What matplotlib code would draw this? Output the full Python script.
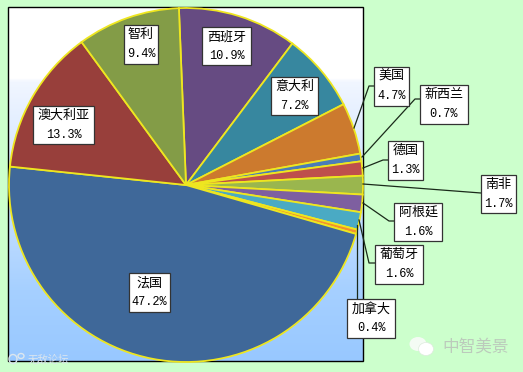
import numpy as np
import matplotlib
matplotlib.use("Agg")
import matplotlib.pyplot as plt
from matplotlib.colors import LinearSegmentedColormap
from matplotlib.patches import Ellipse, Rectangle

W, H = 523, 372

countries = ["西班牙", "意大利", "美国", "新西兰", "德国", "南非", "阿根廷",
             "葡萄牙", "加拿大", "法国", "澳大利亚", "智利"]
shares = [10.9, 7.2, 4.7, 0.7, 1.3, 1.7, 1.6, 1.6, 0.4, 47.2, 13.3, 9.4]
colors = ["#664B82", "#37879F", "#CC7A2E", "#4A7DB8", "#BE4F4C", "#9AB64E",
          "#7E5FA0", "#4AAAC4", "#F3902F", "#3F6899", "#983F3B", "#839C47"]

# label boxes in pixels: left, top, right, bottom
boxes = [(202, 27, 251, 65), (271, 77, 318, 115), (374, 67, 409, 106),
         (420, 85, 468, 124), (388, 141, 423, 180), (481, 175, 516, 213),
         (394, 203, 442, 241), (375, 245, 423, 284), (347, 299, 395, 338),
         (129, 273, 170, 312), (33, 106, 94, 144), (124, 25, 158, 64)]

# leader lines in pixels
leaders = [[(354, 128), (369, 86), (374, 86)],
           [(362, 157), (415, 99), (420, 99)],
           [(363, 168), (383, 160), (388, 160)],
           [(363, 184), (481, 193)],
           [(363, 203), (389, 221), (394, 221)],
           [(359, 220), (369, 263), (375, 263)],
           [(357, 225), (357, 299)]]


def py(y):
    return H - y


fig = plt.figure(figsize=(W / 100, H / 100), dpi=100, facecolor="#CCFFCC")
ax = fig.add_axes([0, 0, 1, 1])
ax.axis("off")

# plot area with the white to blue fill
grad = LinearSegmentedColormap.from_list("bg", [(0, "#FFFFFF"), (0.2, "#FFFFFF"),
                                                (0.21, "#F1F6FF"), (0.55, "#C8E0FF"),
                                                (0.8, "#A6D0FF"), (1, "#98C8FF")])
ax.imshow(np.linspace(0, 1, 256).reshape(-1, 1), cmap=grad, aspect="auto",
          extent=(8, 363, py(361), py(7)), zorder=0)
ax.add_patch(Rectangle((8, py(361)), 355, 354, fill=False, ec="black", lw=1, zorder=1))

ax.pie(shares, colors=colors, startangle=92.3, counterclock=False,
       center=(186, py(185)), radius=177,
       wedgeprops=dict(edgecolor="#EEE620", linewidth=1.3, zorder=2))
ax.set_xlim(0, W)
ax.set_ylim(0, H)
ax.set_aspect("auto")

for pts in leaders:
    ax.plot([p[0] for p in pts], [py(p[1]) for p in pts], color="#1A2A1A", lw=0.9, zorder=3)

font = ["Liberation Mono", "Noto Sans CJK SC"]
for name, val, (l, t, r, b) in zip(countries, shares, boxes):
    ax.add_patch(Rectangle((l, py(b)), r - l, b - t, fc="white", ec="#333333", lw=0.9, zorder=4))
    cx = (l + r) / 2
    ax.text(cx, py(t + 10), name, ha="center", va="center", fontsize=9.4, family=font, zorder=5)
    ax.text(cx, py(t + 29), f"{val:.1f}%", ha="center", va="center", fontsize=8.6, family=font, zorder=5)

# watermarks
ax.text(442, py(347), "中智美景", ha="left", va="center", fontsize=12, color="#BCCABC",
        family=font, zorder=5)
ax.add_patch(Ellipse((418, py(344)), 17, 14, fc="#F4FBF4", ec="none", zorder=5))
ax.add_patch(Ellipse((426, py(349)), 15, 13, fc="#FFFFFF", ec="#DDEBDD", lw=0.5, zorder=5))
ax.text(28, py(360), "无敌论坛", ha="left", va="center", fontsize=7.5, color="#DCE6EE",
        family=font, zorder=5)
ax.add_patch(Ellipse((13, py(359)), 8, 9, fc="none", ec="#DCE6EE", lw=1, zorder=5))
ax.add_patch(Ellipse((21, py(356)), 6, 5, fc="none", ec="#DCE6EE", lw=1, zorder=5))

fig.savefig("out.png", dpi=100, facecolor=fig.get_facecolor())
